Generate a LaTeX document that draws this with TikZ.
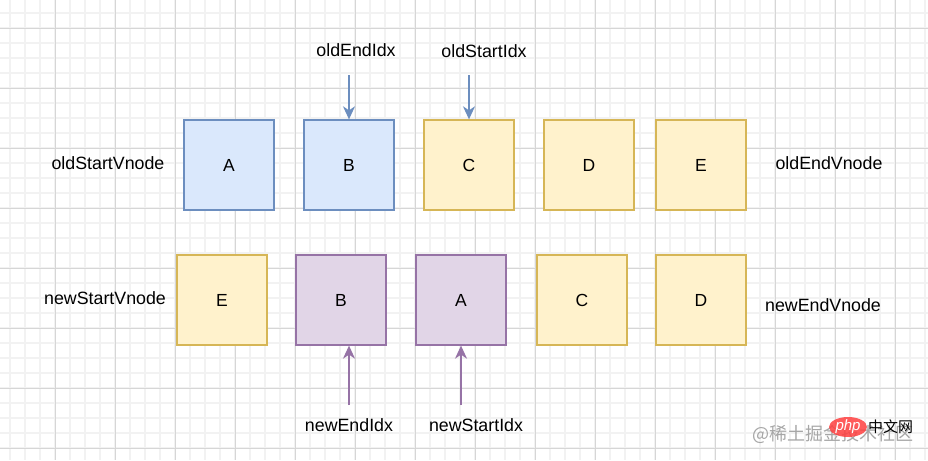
\documentclass[tikz,border=0pt]{standalone}
\usepackage{fontspec}
\setmainfont{Liberation Sans}
\newfontfamily\cjkfont{Noto Sans CJK SC}
\usetikzlibrary{arrows.meta,shapes.geometric}
\definecolor{gridminor}{HTML}{F2F2F2}
\definecolor{gridmajor}{HTML}{D6D6D6}
\definecolor{bluefill}{HTML}{DAE8FC}
\definecolor{bluestroke}{HTML}{6C8EBF}
\definecolor{yelfill}{HTML}{FFF2CC}
\definecolor{yelstroke}{HTML}{D6B656}
\definecolor{purfill}{HTML}{E1D5E7}
\definecolor{purstroke}{HTML}{9673A6}
\tikzset{
  cell/.style={minimum width=90pt,minimum height=90pt,inner sep=0pt,line width=1.3pt,font=\fontsize{17.5}{20}\selectfont},
  bluebox/.style={cell,draw=bluestroke,fill=bluefill},
  yelbox/.style={cell,draw=yelstroke,fill=yelfill},
  purbox/.style={cell,draw=purstroke,fill=purfill},
  lbl/.style={inner sep=0pt,font=\fontsize{17.8}{20}\selectfont},
  barrow/.style={draw=bluestroke,line width=1.4pt,-{Stealth[length=13pt,width=12pt,inset=4pt]}},
  parrow/.style={draw=purstroke,line width=1.4pt,-{Stealth[length=13pt,width=12pt,inset=4pt]}},
}
\begin{document}
\begin{tikzpicture}[x=1pt,y=-1pt]
\useasboundingbox (0,0) rectangle (928,460);
\fill[white] (0,0) rectangle (928,460);
% grid
\foreach \x in {10,25,...,925} \draw[gridminor,line width=1.2pt] (\x,0) -- (\x,460);
\foreach \y in {13,28,...,458} \draw[gridminor,line width=1.2pt] (0,\y) -- (928,\y);
\foreach \x in {55,115,...,925} \draw[gridmajor,line width=0.8pt] (\x,0) -- (\x,460);
\foreach \y in {28,88,...,458} \draw[gridmajor,line width=0.8pt] (0,\y) -- (928,\y);
% old row
\node[bluebox] (oA) at (229,165) {A};
\node[bluebox] (oB) at (349,165) {B};
\node[yelbox] (oC) at (469,165) {C};
\node[yelbox] (oD) at (589,165) {D};
\node[yelbox] (oE) at (701,165) {E};
% new row
\node[yelbox] (nE) at (222,300) {E};
\node[purbox] (nB) at (341,300) {B};
\node[purbox] (nA) at (461,300) {A};
\node[yelbox] (nC) at (582,300) {C};
\node[yelbox] (nD) at (701,300) {D};
% side labels
\node[lbl] (osv) at (108,163) {oldStartVnode};
\node[lbl] (oev) at (829,163) {oldEndVnode};
\node[lbl] (nsv) at (105,298) {newStartVnode};
\node[lbl] (nev) at (823,305) {newEndVnode};
% index labels
\node[lbl] (oei) at (356,50) {oldEndIdx};
\node[lbl] (osi) at (484,51) {oldStartIdx};
\node[lbl] (nei) at (349,425) {newEndIdx};
\node[lbl] (nsi) at (476,425) {newStartIdx};
% arrows
\coordinate (oeiS) at (349,75);
\coordinate (osiS) at (469,75);
\coordinate (neiS) at (349,405);
\coordinate (nsiS) at (461,405);
\draw[barrow] (oeiS) -- (oeiS |- oB.north);
\draw[barrow] (osiS) -- (osiS |- oC.north);
\draw[parrow] (neiS) -- (neiS |- nB.south);
\draw[parrow] (nsiS) -- (nsiS |- nA.south);
% watermark
\node[inner sep=0pt,anchor=west,text=black!35,font=\cjkfont\fontsize{18}{20}\selectfont] (wm) at (752,434) {@稀土掘金技术社区};
\node[ellipse,fill=red!75,opacity=0.85,minimum width=38pt,minimum height=20pt,inner sep=0pt] (php) at (848,427) {};
\node[inner sep=0pt,text=white,font=\itshape\fontsize{15}{16}\selectfont] (phpt) at (php) {php};
\node[inner sep=0pt,anchor=west,font=\cjkfont\fontsize{15}{16}\selectfont] (cn) at (868,427) {中文网};
\end{tikzpicture}
\end{document}
